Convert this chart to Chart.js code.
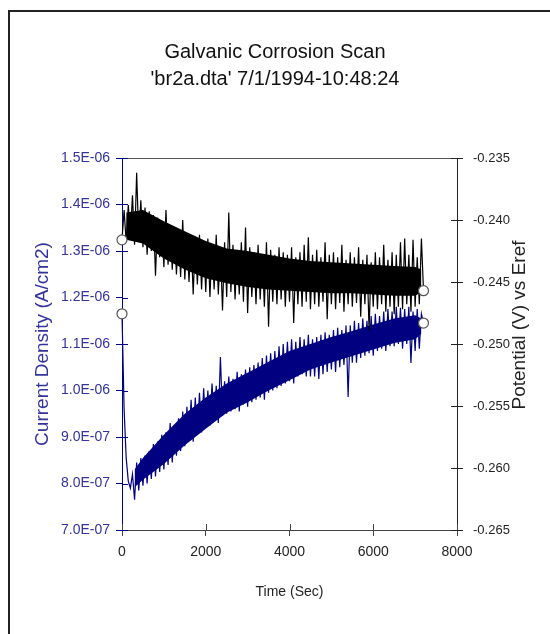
<!DOCTYPE html>
<html>
<head>
<meta charset="utf-8">
<script src="https://cdn.jsdelivr.net/npm/chart.js@4/dist/chart.umd.min.js"></script>
<style>
  html, body { margin: 0; padding: 0; background: #fff; }
  canvas { display: block; }
</style>
</head>
<body>
<canvas id="c" width="550" height="634"></canvas>
<script>
// ---- data ----
const timeSec = [
  0,50,100,150,200,250,300,350,400,450,
  500,550,600,650,700,750,800,850,900,950,
  1000,1050,1100,1150,1200,1250,1300,1350,1400,1450,
  1500,1550,1600,1650,1700,1750,1800,1850,1900,1950,
  2000,2050,2100,2150,2200,2250,2300,2350,2400,2450,
  2500,2550,2600,2650,2700,2750,2800,2850,2900,2950,
  3000,3050,3100,3150,3200,3250,3300,3350,3400,3450,
  3500,3550,3600,3650,3700,3750,3800,3850,3900,3950,
  4000,4050,4100,4150,4200,4250,4300,4350,4400,4450,
  4500,4550,4600,4650,4700,4750,4800,4850,4900,4950,
  5000,5050,5100,5150,5200,5250,5300,5350,5400,5450,
  5500,5550,5600,5650,5700,5750,5800,5850,5900,5950,
  6000,6050,6100,6150,6200,6250,6300,6350,6400,6450,
  6500,6550,6600,6650,6700,6750,6800,6850,6900,6950,
  7000,7050,7100,7150,7200
];

// Current density (A/cm2), sampled every 50 s
const currentDensity = [
  11.65e-7,9.60e-7,8.55e-7,8.05e-7,7.90e-7,8.20e-7,7.65e-7,8.45e-7,7.85e-7,8.55e-7,
  7.95e-7,8.60e-7,8.00e-7,8.70e-7,8.10e-7,8.85e-7,8.15e-7,8.90e-7,8.25e-7,9.05e-7,
  8.30e-7,9.10e-7,8.40e-7,9.30e-7,8.45e-7,9.25e-7,8.60e-7,9.40e-7,8.70e-7,9.55e-7,
  8.80e-7,9.65e-7,8.95e-7,9.80e-7,8.90e-7,9.85e-7,9.05e-7,9.95e-7,9.10e-7,10.05e-7,
  9.20e-7,10.00e-7,9.25e-7,10.15e-7,9.35e-7,10.10e-7,9.30e-7,10.72e-7,9.45e-7,10.20e-7,
  9.50e-7,10.30e-7,9.55e-7,10.25e-7,9.60e-7,10.40e-7,9.55e-7,10.35e-7,9.70e-7,10.45e-7,
  9.65e-7,10.50e-7,9.75e-7,10.55e-7,9.80e-7,10.60e-7,9.85e-7,10.70e-7,9.80e-7,10.75e-7,
  9.95e-7,10.80e-7,10.00e-7,10.85e-7,10.05e-7,10.95e-7,10.10e-7,11.00e-7,10.15e-7,11.05e-7,
  10.20e-7,11.10e-7,10.15e-7,11.05e-7,10.30e-7,11.15e-7,10.35e-7,11.10e-7,10.30e-7,11.20e-7,
  10.30e-7,11.10e-7,10.30e-7,11.15e-7,10.25e-7,11.20e-7,10.35e-7,11.25e-7,10.40e-7,11.20e-7,
  10.45e-7,11.30e-7,10.40e-7,11.35e-7,10.50e-7,11.30e-7,10.55e-7,11.40e-7,9.86e-7,11.40e-7,
  10.60e-7,11.50e-7,10.60e-7,11.45e-7,10.70e-7,11.55e-7,10.75e-7,11.50e-7,10.80e-7,11.60e-7,
  10.75e-7,11.65e-7,10.85e-7,11.60e-7,10.90e-7,11.70e-7,10.85e-7,11.75e-7,10.95e-7,11.70e-7,
  10.95e-7,11.80e-7,11.00e-7,11.78e-7,10.90e-7,11.75e-7,11.00e-7,11.80e-7,10.59e-7,11.70e-7,
  10.85e-7,11.75e-7,10.90e-7,11.65e-7,11.45e-7
];

// Potential (V) vs Eref, sampled every 50 s
const potential = [
  -0.2416,-0.2392,-0.2418,-0.2388,-0.2412,-0.2380,-0.2420,-0.2362,-0.2415,-0.2384,
  -0.2422,-0.2390,-0.2428,-0.2393,-0.2425,-0.2396,-0.2445,-0.2398,-0.2430,-0.2402,
  -0.2438,-0.2392,-0.2436,-0.2404,-0.2440,-0.2406,-0.2444,-0.2410,-0.2446,-0.2400,
  -0.2448,-0.2412,-0.2450,-0.2414,-0.2460,-0.2416,-0.2452,-0.2412,-0.2456,-0.2418,
  -0.2458,-0.2415,-0.2462,-0.2420,-0.2456,-0.2412,-0.2460,-0.2422,-0.2473,-0.2418,
  -0.2462,-0.2394,-0.2458,-0.2420,-0.2464,-0.2424,-0.2460,-0.2418,-0.2466,-0.2406,
  -0.2475,-0.2422,-0.2462,-0.2426,-0.2468,-0.2420,-0.2464,-0.2428,-0.2470,-0.2418,
  -0.2486,-0.2424,-0.2466,-0.2428,-0.2468,-0.2422,-0.2464,-0.2426,-0.2470,-0.2428,
  -0.2466,-0.2422,-0.2483,-0.2430,-0.2468,-0.2426,-0.2470,-0.2420,-0.2466,-0.2414,
  -0.2472,-0.2428,-0.2468,-0.2424,-0.2470,-0.2430,-0.2466,-0.2418,-0.2480,-0.2428,
  -0.2468,-0.2426,-0.2472,-0.2430,-0.2467,-0.2420,-0.2474,-0.2432,-0.2468,-0.2426,
  -0.2470,-0.2430,-0.2467,-0.2422,-0.2478,-0.2432,-0.2468,-0.2428,-0.2489,-0.2434,
  -0.2470,-0.2426,-0.2472,-0.2430,-0.2468,-0.2420,-0.2474,-0.2432,-0.2470,-0.2426,
  -0.2476,-0.2428,-0.2470,-0.2418,-0.2472,-0.2415,-0.2468,-0.2428,-0.2474,-0.2416,
  -0.2470,-0.2430,-0.2468,-0.2415,-0.2457
];

// Dense (solid) core of each noisy trace, as seen in the picture
const potentialBandTime = [100,500,1000,1500,2000,2500,3000,3500,4000,4500,5000,5500,6000,6500,7000,7150];
const potentialCoreHigh = [-0.2394,-0.2392,-0.2401,-0.2409,-0.2417,-0.2423,-0.2425,-0.2428,-0.2431,-0.2433,-0.2434,-0.2435,-0.2436,-0.2437,-0.2438,-0.2440];
const potentialCoreLow  = [-0.2416,-0.2419,-0.2431,-0.2440,-0.2447,-0.2451,-0.2454,-0.2456,-0.2457,-0.2458,-0.2459,-0.2459,-0.2460,-0.2461,-0.2461,-0.2458];

const currentBandTime = [300,500,1000,1500,2000,2500,3000,3500,4000,4500,5000,5500,6000,6500,7000,7150];
const currentCoreHigh = [8.30e-7,8.55e-7,9.05e-7,9.50e-7,9.85e-7,10.15e-7,10.38e-7,10.62e-7,10.85e-7,11.00e-7,11.15e-7,11.28e-7,11.42e-7,11.55e-7,11.62e-7,11.55e-7];
const currentCoreLow  = [7.92e-7,8.08e-7,8.42e-7,8.82e-7,9.18e-7,9.52e-7,9.75e-7,10.00e-7,10.22e-7,10.45e-7,10.60e-7,10.74e-7,10.88e-7,11.02e-7,11.10e-7,11.22e-7];

const titleLines = ['Galvanic Corrosion Scan', "'br2a.dta' 7/1/1994-10:48:24"];
const xTitle = 'Time (Sec)';
const yLeftTitle = 'Current Density (A/cm2)';
const yRightTitle = 'Potential (V) vs Eref';

// ---- styling ----
const FONT = '"Liberation Sans", Arial, Helvetica, sans-serif';
const NAVY = '#000080';
const LEFT_TXT = '#33339a';

function sciLabel(v) {
  const parts = Number(v).toExponential(1).split('e');
  const n = parseInt(parts[1], 10);
  return parts[0] + 'E' + (n < 0 ? '-' : '+') + String(Math.abs(n)).padStart(2, '0');
}

function endMarker(ctx) {
  const n = ctx.dataset.data.length;
  return (ctx.dataIndex === 0 || ctx.dataIndex === n - 1) ? 5 : 0;
}

function pairs(xs, ys) { return xs.map((x, i) => ({x: x, y: ys[i]})); }

function bandSet(xs, ys, axis, color, fill) {
  return {
    data: pairs(xs, ys), yAxisID: axis,
    borderColor: 'rgba(0,0,0,0)', borderWidth: 1,
    backgroundColor: color, fill: fill,
    pointRadius: 0, pointHoverRadius: 0, tension: 0, clip: false
  };
}

const extras = {
  id: 'extras',
  beforeDraw(chart) {
    const ctx = chart.ctx;
    ctx.save();
    ctx.strokeStyle = '#222';
    ctx.lineWidth = 2;
    ctx.beginPath();
    ctx.moveTo(9, 634);
    ctx.lineTo(9, 11);
    ctx.lineTo(550, 11);
    ctx.stroke();
    ctx.restore();
  },
  afterDraw(chart) {
    const {ctx, chartArea: a, scales} = chart;
    ctx.save();
    ctx.lineWidth = 1;
    ctx.strokeStyle = '#555';
    ctx.beginPath();
    ctx.moveTo(a.left, a.top + 0.5);
    ctx.lineTo(a.right, a.top + 0.5);
    ctx.stroke();
    ctx.strokeStyle = '#444';
    scales.x.ticks.forEach(t => {
      const px = Math.round(scales.x.getPixelForValue(t.value)) + 0.5;
      ctx.beginPath(); ctx.moveTo(px, a.bottom); ctx.lineTo(px, a.bottom - 6); ctx.stroke();
    });
    ctx.strokeStyle = NAVY;
    scales.y.ticks.forEach(t => {
      const py = Math.round(scales.y.getPixelForValue(t.value)) + 0.5;
      ctx.beginPath(); ctx.moveTo(a.left, py); ctx.lineTo(a.left + 6, py); ctx.stroke();
    });
    ctx.strokeStyle = '#222';
    scales.yR.ticks.forEach(t => {
      const py = Math.round(scales.yR.getPixelForValue(t.value)) + 0.5;
      ctx.beginPath(); ctx.moveTo(a.right, py); ctx.lineTo(a.right - 6, py); ctx.stroke();
    });
    // right axis title, reading bottom-to-top
    ctx.fillStyle = '#222';
    ctx.font = '19px ' + FONT;
    ctx.textAlign = 'center';
    ctx.textBaseline = 'middle';
    ctx.translate(520, 325);
    ctx.rotate(-Math.PI / 2);
    ctx.fillText(yRightTitle, 0, 0);
    ctx.restore();
  }
};

const lineStyle = {
  borderWidth: 1.2,
  pointRadius: endMarker,
  pointHoverRadius: endMarker,
  pointBackgroundColor: '#fff',
  pointBorderColor: '#555',
  pointBorderWidth: 1.2,
  tension: 0,
  fill: false,
  clip: false
};

new Chart(document.getElementById('c'), {
  type: 'line',
  data: {
    datasets: [
      Object.assign({label: yRightTitle, data: pairs(timeSec, potential), yAxisID: 'yR', borderColor: '#000'}, lineStyle),
      bandSet(potentialBandTime, potentialCoreHigh, 'yR', '#000', '+1'),
      bandSet(potentialBandTime, potentialCoreLow, 'yR', '#000', false),
      Object.assign({label: yLeftTitle, data: pairs(timeSec, currentDensity), yAxisID: 'y', borderColor: NAVY}, lineStyle),
      bandSet(currentBandTime, currentCoreHigh, 'y', NAVY, '+1'),
      bandSet(currentBandTime, currentCoreLow, 'y', NAVY, false)
    ]
  },
  options: {
    responsive: false,
    animation: false,
    layout: {padding: 0},
    plugins: {
      legend: {display: false},
      tooltip: {enabled: false},
      title: {
        display: true,
        text: titleLines,
        color: '#111',
        font: {family: FONT, size: 20, weight: 'normal', lineHeight: 1.35},
        padding: {top: 39, bottom: 65}
      }
    },
    scales: {
      x: {
        type: 'linear',
        min: 0, max: 8000,
        ticks: {stepSize: 2000, color: '#222', font: {family: FONT, size: 14}, padding: 8, maxRotation: 0, callback: v => String(v)},
        grid: {drawOnChartArea: false, tickLength: 6, color: '#444'},
        border: {color: '#444', width: 1},
        title: {display: true, text: xTitle, color: '#222', font: {family: FONT, size: 14}, padding: 33},
        afterFit(s) { s.height = 104; }
      },
      y: {
        type: 'linear',
        position: 'left',
        min: 7e-7, max: 1.5e-6,
        ticks: {stepSize: 1e-7, color: LEFT_TXT, font: {family: FONT, size: 14}, padding: 6, callback: v => sciLabel(v)},
        grid: {drawOnChartArea: false, tickLength: 6, color: NAVY},
        border: {color: NAVY, width: 1},
        title: {display: true, text: yLeftTitle, color: LEFT_TXT, font: {family: FONT, size: 19}, padding: 31},
        afterFit(s) { s.width = 122; }
      },
      yR: {
        type: 'linear',
        position: 'right',
        min: -0.265, max: -0.235,
        ticks: {stepSize: 0.005, color: '#222', font: {family: FONT, size: 13}, padding: 10, callback: v => Number(v).toFixed(3)},
        grid: {drawOnChartArea: false, tickLength: 6, color: '#222'},
        border: {color: '#222', width: 1},
        afterFit(s) { s.width = 93; }
      }
    }
  },
  plugins: [extras]
});
</script>
</body>
</html>
